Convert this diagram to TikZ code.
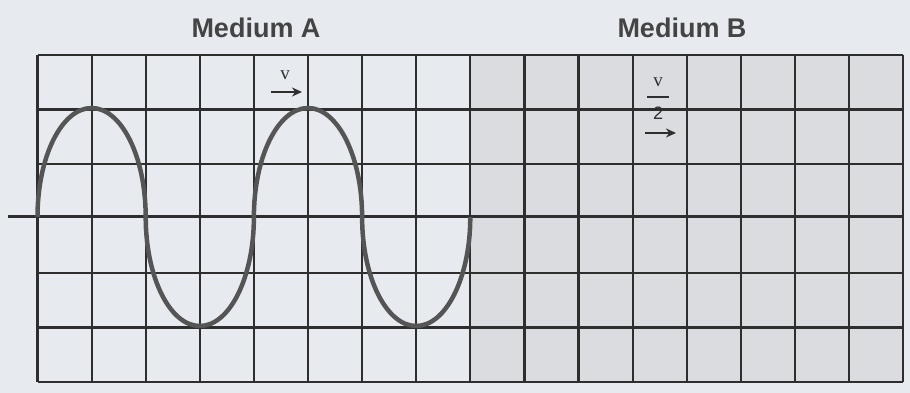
\documentclass[tikz,border=0pt]{standalone}
\usepackage{fontspec}
\setmainfont{Liberation Sans}
\newfontfamily\serifv{Liberation Serif}
\usetikzlibrary{arrows.meta}
\definecolor{paper}{HTML}{E7EBEF}
\definecolor{shadeB}{HTML}{DADCDF}
\definecolor{gridc}{HTML}{2E2E2E}
\definecolor{wavec}{HTML}{555555}
\definecolor{titlec}{HTML}{444444}
\tikzset{
  gridline/.style={draw=gridc, line width=2.2pt},
  axisline/.style={draw=gridc, line width=3pt},
  wave/.style={draw=wavec, line width=4.5pt},
  title/.style={font=\bfseries\fontsize{27}{29}\selectfont, text=titlec},
  vlabel/.style={font=\serifv\fontsize{19}{20}\selectfont, text=gridc, inner sep=0pt},
  twolabel/.style={font=\fontsize{18}{19}\selectfont, text=gridc, inner sep=0pt},
  vel/.style={draw=gridc, line width=1.8pt, -{Stealth[length=10pt,width=9pt]}}
}
\begin{document}
\begin{tikzpicture}[x=1pt,y=1pt]
\useasboundingbox[fill=paper] (0,0) rectangle (910,393);
% Medium B shading
\fill[shadeB] (470.3,11) rectangle (903.1,338);
% grid
\foreach \k in {0,...,16}{
  \draw[gridline] ({37.5+\k*54.1},11) -- ({37.5+\k*54.1},338);
}
\foreach \j in {0,1,2,4,5,6}{
  \draw[gridline] (37.5,{11+\j*54.5}) -- (903.1,{11+\j*54.5});
}
% axis
\coordinate (axL) at (8,176);
\coordinate (axR) at (903.1,176);
\draw[axisline] (axL) -- (axR);
% wave
\draw[wave] (37.5,176)
  arc[start angle=180,end angle=0,x radius=54.1pt,y radius=109pt]
  arc[start angle=180,end angle=360,x radius=54.1pt,y radius=109pt]
  arc[start angle=180,end angle=0,x radius=54.1pt,y radius=109pt]
  arc[start angle=180,end angle=360,x radius=54.1pt,y radius=109pt];
% titles
\node[title] (tA) at (256,365) {Medium A};
\node[title] (tB) at (682,365) {Medium B};
% velocity A
\node[vlabel] (vA) at (285,318) {v};
\coordinate (aA1) at (271,301);
\coordinate (aA2) at (302,301);
\draw[vel] (aA1) -- (aA2);
% velocity B
\node[vlabel] (vB) at (658,311) {v};
\coordinate (bar1) at (647,296);
\coordinate (bar2) at (669,296);
\draw[draw=gridc, line width=1.4pt] (bar1) -- (bar2);
\node[twolabel] (two) at (658,280) {2};
\coordinate (aB1) at (645,260);
\coordinate (aB2) at (676,260);
\draw[vel] (aB1) -- (aB2);
\end{tikzpicture}
\end{document}
